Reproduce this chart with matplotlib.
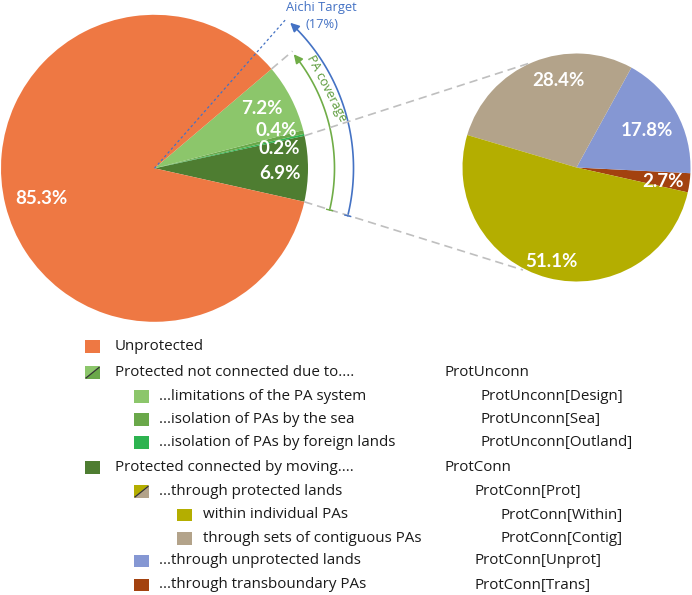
import numpy as np
import matplotlib
matplotlib.use("Agg")
import matplotlib.pyplot as plt
from matplotlib.patches import Rectangle, Polygon, FancyArrowPatch
from matplotlib.path import Path

# ---------------- data ----------------
main_labels = ["ProtConn", "ProtUnconn[Outland]", "ProtUnconn[Sea]", "ProtUnconn[Design]", "Unprotected"]
main_values = [6.9, 0.2, 0.4, 7.2, 85.3]
sub_labels = ["ProtConn[Trans]", "ProtConn[Unprot]", "ProtConn[Contig]", "ProtConn[Within]"]
sub_values = [2.7, 17.8, 28.4, 51.1]
aichi_target = 17.0

legend_labels = [
    "Unprotected",
    "Protected not connected due to....",
    "...limitations of the PA system",
    "...isolation of PAs by the sea",
    "...isolation of PAs by foreign lands",
    "Protected connected by moving....",
    "...through protected lands",
    "within individual PAs",
    "through sets of contiguous PAs",
    "...through unprotected lands",
    "...through transboundary PAs",
]
legend_codes = ["", "ProtUnconn", "ProtUnconn[Design]", "ProtUnconn[Sea]", "ProtUnconn[Outland]",
                "ProtConn", "ProtConn[Prot]", "ProtConn[Within]", "ProtConn[Contig]",
                "ProtConn[Unprot]", "ProtConn[Trans]"]
legend_levels = [0, 0, 1, 1, 1, 0, 1, 2, 2, 1, 1]

# ---------------- style ----------------
C_UNPROT = "#EE7843"
C_DESIGN = "#8CC66B"
C_SEA = "#6AA84A"
C_OUT = "#2DB350"
C_CONN = "#4E7D31"
C_WITHIN = "#B4AE00"
C_CONTIG = "#B3A38A"
C_UNPROTL = "#8597D3"
C_TRANS = "#A3420F"
main_colors = [C_CONN, C_OUT, C_SEA, C_DESIGN, C_UNPROT]
sub_colors = [C_TRANS, C_UNPROTL, C_CONTIG, C_WITHIN]
legend_colors = [C_UNPROT, (C_DESIGN, C_SEA), C_DESIGN, C_SEA, C_OUT, C_CONN,
                 (C_WITHIN, C_CONTIG), C_WITHIN, C_CONTIG, C_UNPROTL, C_TRANS]

W, H = 692, 595
def Y(y):
    return H - y

fig = plt.figure(figsize=(W / 100, H / 100), dpi=100)
ax = fig.add_axes([0, 0, 1, 1])

# main pie
c1 = (154.5, Y(168.3)); r1 = 153.5
start = -12.6
ax.pie(main_values, colors=main_colors, startangle=start, radius=r1, center=c1,
       frame=True, wedgeprops=dict(linewidth=0))
# sub pie
c2 = (576.5, Y(167.5)); r2 = 114
ax.pie(sub_values, colors=sub_colors, startangle=start, radius=r2, center=c2,
       frame=True, wedgeprops=dict(linewidth=0))

ax.set_xlim(0, W); ax.set_ylim(0, H)
ax.set_aspect("equal")
ax.axis("off")

pct_font = dict(family=["Lato", "DejaVu Sans"], fontweight="bold", color="white",
                fontsize=13.5, ha="center", va="center")
main_pos = [(280, 173.3), (279, 148.3), (276, 130), (261.7, 109), (41, 198)]
for v, (px, py) in zip(main_values, main_pos):
    ax.text(px, Y(py), f"{v:.1f}%", **pct_font)
sub_pos = [(663.3, 181.7), (646.7, 130), (558.3, 80), (551.7, 261.7)]
for v, (px, py) in zip(sub_values, sub_pos):
    ax.text(px, Y(py), f"{v:.1f}%", **pct_font)

# angles from data
ang_conn_end = start + main_values[0] * 3.6
ang_prot_end = start + sum(main_values[:4]) * 3.6
ang_aichi = start + aichi_target * 3.6

def pt(c, r, a):
    return (c[0] + r * np.cos(np.radians(a)), c[1] + r * np.sin(np.radians(a)))

grey = "#BFBFBF"
# connector lines to the sub pie
p_top = pt(c1, r1, ang_conn_end)
p_bot = pt(c1, r1, start)
ax.plot([p_top[0], 530], [p_top[1], Y(63)], color=grey, lw=1.2, ls=(0, (5, 3)))
ax.plot([p_bot[0], 523], [p_bot[1], Y(270)], color=grey, lw=1.2, ls=(0, (5, 3)))
# PA coverage extent line
pa_a = pt(c1, r1, ang_prot_end); pa_b = pt(c1, 181, ang_prot_end)
ax.plot([pa_a[0], pa_b[0]], [pa_a[1], pa_b[1]], color=grey, lw=1.2, ls=(0, (5, 3)))
# Aichi line
ai_b = pt(c1, 197.5, ang_aichi)
ax.plot([c1[0], ai_b[0]], [c1[1], ai_b[1]], color="#4472C4", lw=0.9, ls=(0, (2, 2)))

# arcs with arrows
def arc(r, a0, a1, color):
    t = np.linspace(a0, a1, 80)
    verts = [pt(c1, r, a) for a in t]
    path = Path(verts)
    ax.add_patch(FancyArrowPatch(path=path, arrowstyle="-|>", mutation_scale=13,
                                 color=color, lw=1.2, shrinkA=0, shrinkB=0))
    p0 = pt(c1, r - 3, a0); p1 = pt(c1, r + 3, a0)
    ax.plot([p0[0], p1[0]], [p0[1], p1[1]], color=color, lw=1.0)

arc(180, start - 0.8, ang_prot_end - 1.0, "#70AD47")
arc(199, start - 1.2, ang_aichi - 1.6, "#4472C4")

afont = dict(family=["Open Sans", "DejaVu Sans"], ha="center", va="center")
ax.text(321.5, Y(7), "Aichi Target", color="#4472C4", fontsize=9.3, **afont)
ax.text(322, Y(24), f"({aichi_target:.0f}%)", color="#4472C4", fontsize=9.3, **afont)
ax.text(327, Y(88.5), "PA coverage", color="#5B9A3A", fontsize=9.2, rotation=-62.5,
        rotation_mode="anchor", **afont)

# ---------------- legend ----------------
row_y = [346.5, 372.7, 396.7, 419.3, 442.7, 467.3, 491.7, 515, 538.3, 561, 585]
sq_x = [85, 134, 177.3]
tx_x = [115, 159.3, 203.3]
code_x = [0, 445, 481, 481, 481, 445, 475, 500, 500, 475, 475]
sw, sh = 15, 12.5
lfont = dict(family=["Open Sans", "DejaVu Sans"], fontsize=10.9, color="#1A1A1A", va="center")
for lab, code, lev, col, yy, cx in zip(legend_labels, legend_codes, legend_levels,
                                        legend_colors, row_y, code_x):
    x0 = sq_x[lev]; y0 = Y(yy) - sh / 2
    if isinstance(col, tuple):
        ax.add_patch(Polygon([(x0, y0), (x0, y0 + sh), (x0 + sw, y0 + sh)], closed=True,
                             facecolor=col[0], edgecolor="none"))
        ax.add_patch(Polygon([(x0, y0), (x0 + sw, y0), (x0 + sw, y0 + sh)], closed=True,
                             facecolor=col[1], edgecolor="none"))
        ax.plot([x0 + 1, x0 + sw - 1], [y0 + 1, y0 + sh - 1], color="#333333", lw=0.9)
    else:
        ax.add_patch(Rectangle((x0, y0), sw, sh, facecolor=col, edgecolor="none"))
    ax.text(tx_x[lev], Y(yy), lab, **lfont)
    if code:
        ax.text(cx, Y(yy), code, **lfont)

fig.savefig("out.png", dpi=100)
